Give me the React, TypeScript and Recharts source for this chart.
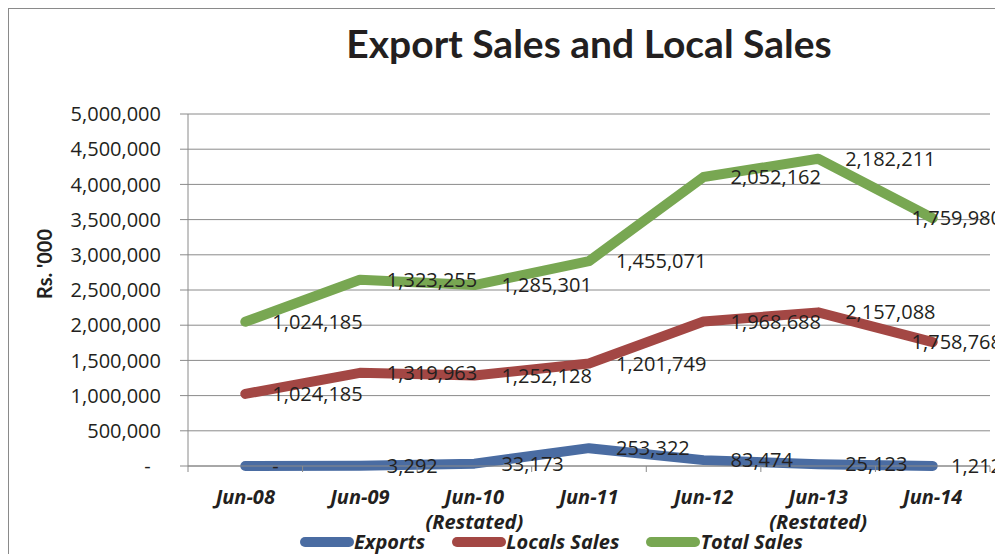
import { Area, AreaChart, CartesianGrid, LabelList, Legend, XAxis, YAxis } from "recharts";

const periods = ["Jun-08", "Jun-09", "Jun-10", "Jun-11", "Jun-12", "Jun-13", "Jun-14"];
const periodNotes = ["", "", "(Restated)", "", "", "(Restated)", ""];

// Rs. '000
const exportsValues = [0, 3292, 33173, 253322, 83474, 25123, 1212];
const localsValues = [1024185, 1319963, 1252128, 1201749, 1968688, 2157088, 1758768];
const totalValues = [1024185, 1323255, 1285301, 1455071, 2052162, 2182211, 1759980];

const yTicks = [0, 500000, 1000000, 1500000, 2000000, 2500000, 3000000, 3500000, 4000000, 4500000, 5000000];

const seriesNames = ["Exports", "Locals Sales", "Total Sales"];

const data = periods.map((period, i) => ({
  period,
  exports: exportsValues[i],
  locals: localsValues[i],
  total: totalValues[i],
}));

const W = 994;
const H = 545;
const margin = { top: 105, right: 13, left: 0, bottom: 1 };
const yAxisWidth = 179;
const halfBand = (W - margin.left - margin.right - yAxisWidth) / periods.length / 2;
// labels are pushed back inside the chart area like Excel does
const labelLimit = 993;

const ink = "#231f20";
const gray = "#8a8a8a";
const colors = { exports: "#4a6ca2", locals: "#a34744", total: "#78a752" };
const numFont = "'Open Sans', sans-serif";
const boldFont = "'Open Sans', sans-serif";
const titleFont = "Lato, 'Open Sans', sans-serif";

const fmt = (v: number) => (v === 0 ? "-" : v.toLocaleString("en-US"));

// rough width of an Open Sans 20px number
const textWidth = (s: string) => s.replace(/,/g, "").length * 11.4 + (s.split(",").length - 1) * 5.2;

function makeLabel(values: number[]) {
  return (props: any) => {
    const { x, y, index } = props;
    const s = fmt(values[index]);
    const fits = x + 27 + textWidth(s) <= labelLimit;
    return (
      <text
        x={fits ? x + 27 : labelLimit}
        y={y}
        dy="0.35em"
        textAnchor={fits ? "start" : "end"}
        fontFamily={numFont}
        fontSize={20}
        fill={ink}
      >
        {s}
      </text>
    );
  };
}

function PeriodTick(props: any) {
  const { x, y, payload } = props;
  const i = payload.index;
  const note = periodNotes[i];
  return (
    <g>
      <line x1={x - halfBand} x2={x - halfBand} y1={y - 10} y2={y - 4} stroke={gray} />
      {i === periods.length - 1 && (
        <line x1={x + halfBand} x2={x + halfBand} y1={y - 10} y2={y - 4} stroke={gray} />
      )}
      <text
        x={x}
        y={y}
        textAnchor="middle"
        fontFamily={boldFont}
        fontWeight={700}
        fontStyle="italic"
        fontSize={20}
        fill={ink}
      >
        <tspan x={x} dy={28}>
          {payload.value}
        </tspan>
        {note && (
          <tspan x={x} dy={25}>
            {note}
          </tspan>
        )}
      </text>
    </g>
  );
}

function SalesLegend() {
  const items = [
    { name: seriesNames[0], color: colors.exports },
    { name: seriesNames[1], color: colors.locals },
    { name: seriesNames[2], color: colors.total },
  ];
  return (
    <div style={{ display: "flex", alignItems: "center", height: 22 }}>
      {items.map((item, i) => (
        <div key={item.name} style={{ display: "flex", alignItems: "center", marginLeft: i === 0 ? 0 : 27 }}>
          <svg width={54} height={12} style={{ display: "block" }}>
            <line x1={5} x2={49} y1={6} y2={6} stroke={item.color} strokeWidth={10} strokeLinecap="round" />
          </svg>
          <span
            style={{
              fontFamily: boldFont,
              fontWeight: 700,
              fontStyle: "italic",
              fontSize: 20,
              lineHeight: "22px",
              color: ink,
              whiteSpace: "nowrap",
            }}
          >
            {item.name}
          </span>
        </div>
      ))}
    </div>
  );
}

export default function App() {
  return (
    <div
      style={{
        position: "relative",
        width: W,
        height: H,
        borderLeft: `1px solid ${gray}`,
        borderTop: `1px solid ${gray}`,
        overflow: "hidden",
        background: "#fff",
      }}
    >
      <style>{"html,body{overflow:hidden}"}</style>
      <AreaChart width={W} height={H} data={data} margin={margin}>
        <CartesianGrid stroke={gray} vertical={false} />
        <XAxis
          dataKey="period"
          axisLine={{ stroke: gray }}
          tickLine={false}
          tickSize={6}
          tickMargin={4}
          height={65}
          interval={0}
          padding={{ left: halfBand, right: halfBand }}
          tick={<PeriodTick />}
        />
        <YAxis
          width={yAxisWidth}
          domain={[0, 5000000]}
          ticks={yTicks}
          interval={0}
          axisLine={{ stroke: gray }}
          tickLine={{ stroke: gray }}
          tickSize={8}
          tickMargin={19}
          tickFormatter={(v: number) => (v === 0 ? "-\u00a0\u00a0" : v.toLocaleString("en-US"))}
          tick={{ fill: ink, fontSize: 20, fontFamily: numFont }}
        />
        <Legend
          verticalAlign="bottom"
          content={<SalesLegend />}
          wrapperStyle={{ left: 291, width: 580, height: 22 }}
        />
        <Area
          type="linear"
          dataKey="exports"
          name={seriesNames[0]}
          stackId="sales"
          stroke={colors.exports}
          strokeWidth={10}
          strokeLinecap="round"
          strokeLinejoin="round"
          fill="none"
          dot={false}
          activeDot={false}
          isAnimationActive={false}
        >
          <LabelList content={makeLabel(exportsValues)} />
        </Area>
        <Area
          type="linear"
          dataKey="locals"
          name={seriesNames[1]}
          stackId="sales"
          stroke={colors.locals}
          strokeWidth={10}
          strokeLinecap="round"
          strokeLinejoin="round"
          fill="none"
          dot={false}
          activeDot={false}
          isAnimationActive={false}
        >
          <LabelList content={makeLabel(localsValues)} />
        </Area>
        <Area
          type="linear"
          dataKey="total"
          name={seriesNames[2]}
          stackId="sales"
          stroke={colors.total}
          strokeWidth={10}
          strokeLinecap="round"
          strokeLinejoin="round"
          fill="none"
          dot={false}
          activeDot={false}
          isAnimationActive={false}
        >
          <LabelList content={makeLabel(totalValues)} />
        </Area>
      </AreaChart>
      <svg
        width={W}
        height={H}
        style={{ position: "absolute", left: 0, top: 0, pointerEvents: "none" }}
      >
        <text x={580} y={49} textAnchor="middle" fontFamily={titleFont} fontWeight={700} fontSize={39} fill={ink}>
          Export Sales and Local Sales
        </text>
        <text
          transform="translate(36,255) rotate(-90)"
          textAnchor="middle"
          dy="0.35em"
          fontFamily={titleFont}
          fontWeight={700}
          fontSize={20}
          fill={ink}
        >
          Rs. '000
        </text>
      </svg>
    </div>
  );
}
